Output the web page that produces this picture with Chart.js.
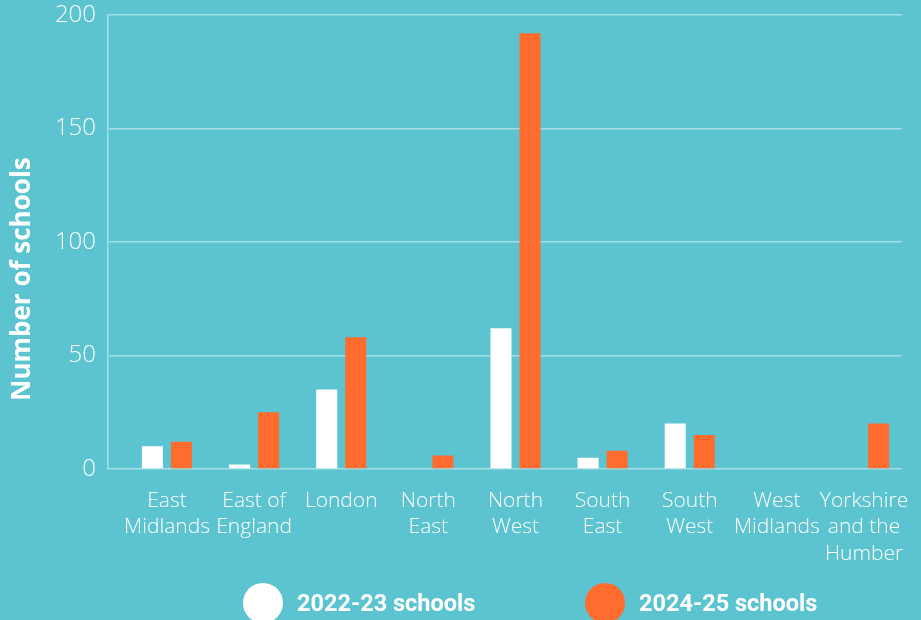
<!DOCTYPE html>
<html>
<head>
<meta charset="utf-8">
<script src="https://cdn.jsdelivr.net/npm/chart.js@4"></script>
<style>
  html, body { margin: 0; padding: 0; background: #5bc4d0; overflow: hidden; }
  #wrap { position: relative; width: 921px; height: 620px; }
  #legend { position: absolute; left: 0; top: 0; width: 921px; height: 620px; pointer-events: none; }
  .item { position: absolute; display: flex; align-items: center; font-family: Roboto, sans-serif; font-weight: 700; font-size: 23.5px; color: #fff; }
  .dot { width: 40px; height: 40px; border-radius: 50%; margin-right: 14px; }
</style>
</head>
<body>
<div id="wrap">
  <canvas id="chart" width="921" height="620"></canvas>
  <div id="legend"></div>
</div>
<script>
var regions = [["East", "Midlands"], ["East of", "England"], "London", ["North", "East"], ["North", "West"],
               ["South", "East"], ["South", "West"], ["West", "Midlands"], ["Yorkshire", "and the", "Humber"]];
var schools2223 = [10, 2, 35, 0, 62, 5, 20, 0, 0];
var schools2425 = [12, 25, 58, 6, 192, 8, 15, 0, 20];
var seriesNames = ["2022-23 schools", "2024-25 schools"];
var seriesColors = ["#ffffff", "#ff6c2e"];
var yTitle = "Number of schools";

// legend (html, under the plot)
var legendPos = [243, 585];
var legend = document.getElementById("legend");
for (var i = 0; i < seriesNames.length; i++) {
    var it = document.createElement("div");
    it.className = "item";
    it.style.left = legendPos[i] + "px";
    it.style.top = "583px";
    it.innerHTML = '<span class="dot" style="background:' + seriesColors[i] + '"></span><span>' + seriesNames[i] + '</span>';
    legend.appendChild(it);
}

var yTitlePlugin = {
    id: "yTitle",
    afterDraw: function(chart) {
        var ctx = chart.ctx;
        ctx.save();
        ctx.translate(23, 279);
        ctx.rotate(-Math.PI / 2);
        ctx.font = "bold 26px 'Open Sans', sans-serif";
        ctx.fillStyle = "#fff";
        ctx.textAlign = "center";
        ctx.textBaseline = "middle";
        ctx.fillText(yTitle, 0, 0);
        ctx.restore();
    }
};

// categories sit a bit inside the plot frame
var narrowX = {
    id: "narrowX",
    afterLayout: function(chart) {
        var x = chart.scales.x;
        x.left = 123.4;
        x.right = 907.6;
        x.width = x.right - x.left;
        x.configure();
    }
};

var ctx = document.getElementById("chart").getContext("2d");
var chart = new Chart(ctx, {
    type: "bar",
    data: {
        labels: regions,
        datasets: [{
            label: seriesNames[0],
            data: schools2223,
            backgroundColor: seriesColors[0]
        }, {
            label: seriesNames[1],
            data: schools2425,
            backgroundColor: seriesColors[1]
        }]
    },
    options: {
        responsive: false,
        animation: false,
        categoryPercentage: 0.667,
        barPercentage: 0.724,
        layout: { padding: { top: 15, right: 0, bottom: 0, left: 0 } },
        plugins: {
            legend: { display: false },
            tooltip: { enabled: false }
        },
        scales: {
            x: {
                grid: { display: false, drawTicks: false },
                border: { display: false },
                ticks: {
                    color: "#fff",
                    padding: 19,
                    maxRotation: 0,
                    autoSkip: false,
                    font: { family: "'Open Sans'", weight: 300, size: 21, lineHeight: 1.25 }
                },
                afterFit: function(s) { s.height = 151; }
            },
            y: {
                min: 0,
                max: 200,
                ticks: {
                    stepSize: 50,
                    color: "#fff",
                    padding: 12,
                    font: { family: "'Open Sans'", weight: 300, size: 24 }
                },
                grid: { color: "rgba(255,255,255,0.45)", lineWidth: 1.5, drawTicks: false },
                border: { display: true, color: "rgba(255,255,255,0.45)", width: 1.5 },
                afterFit: function(s) { s.width = 108; s.paddingTop = 0; s.paddingBottom = 0; }
            }
        }
    },
    plugins: [narrowX, yTitlePlugin]
});
</script>
</body>
</html>
